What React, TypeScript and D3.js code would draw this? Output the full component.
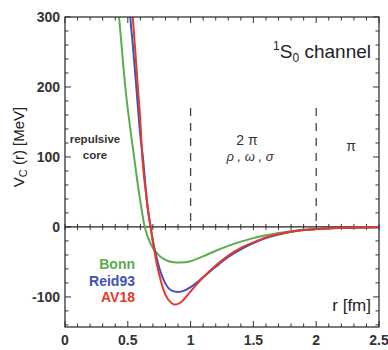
import React from "react";
import * as d3 from "d3";

// r [fm] and V_C(r) [MeV]
const bonnR = [0.41, 0.43, 0.45, 0.48, 0.52, 0.55, 0.58, 0.61, 0.63, 0.66, 0.7, 0.75, 0.8, 0.85, 0.92, 1.0, 1.1, 1.2, 1.3, 1.4, 1.5, 1.6, 1.7, 1.8, 1.9, 2.0, 2.2, 2.5];
const bonnV = [330, 300, 260, 200, 140, 100, 60, 25, 4, -15, -30, -41, -47, -50, -51, -49, -42, -34, -27, -21, -16, -12, -8.5, -6, -4, -3, -1.5, -0.5];

const reidR = [0.51, 0.52, 0.54, 0.57, 0.6, 0.62, 0.64, 0.66, 0.68, 0.7, 0.75, 0.8, 0.85, 0.9, 0.95, 1.0, 1.1, 1.2, 1.3, 1.4, 1.5, 1.6, 1.7, 1.8, 1.9, 2.0, 2.2, 2.5];
const reidV = [330, 300, 260, 195, 130, 100, 60, 25, 2, -20, -58, -81, -91, -93, -91, -86, -72, -57, -43, -32, -23, -16, -11, -7, -4.5, -3, -1.2, -0.3];

const av18R = [0.53, 0.54, 0.56, 0.58, 0.6, 0.615, 0.64, 0.66, 0.68, 0.7, 0.75, 0.8, 0.85, 0.88, 0.92, 1.0, 1.1, 1.2, 1.3, 1.4, 1.5, 1.6, 1.7, 1.8, 1.9, 2.0, 2.2, 2.5];
const av18V = [330, 300, 250, 200, 150, 100, 55, 25, 2, -22, -68, -97, -109, -111, -108, -92, -72, -55, -41, -30, -22, -15, -10, -7, -4.5, -3, -1.2, -0.3];

const xTicks = [0, 0.5, 1, 1.5, 2, 2.5];
const xTickLabels = ["0", "0.5", "1", "1.5", "2", "2.5"];
const yTicks = [-100, 0, 100, 200, 300];
const regionBounds = [1, 2];

const series = [
  { name: "Bonn", r: bonnR, v: bonnV, color: "#5aac4c" },
  { name: "Reid93", r: reidR, v: reidV, color: "#4350b5" },
  { name: "AV18", r: av18R, v: av18V, color: "#e5392b" },
];

const W = 388;
const H = 350;
const margin = { top: 17, right: 9, bottom: 23, left: 65 };

export default function App() {
  const x = d3.scaleLinear().domain([0, 2.5]).range([margin.left, W - margin.right]);
  const y = d3.scaleLinear().domain([-143, 300]).range([H - margin.bottom, margin.top]);
  const line = d3
    .line<[number, number]>()
    .x((d) => x(d[0]))
    .y((d) => y(d[1]))
    .curve(d3.curveMonotoneX);

  const minorX = d3.range(0, 26).map((i) => i / 10);
  const minorY = d3.range(-140, 301, 20);
  const font = "'Liberation Sans', Arial, sans-serif";
  const x0 = x(0), x1 = x(2.5), yT = y(300), yB = y(-143), yZ = y(0);

  return (
    <svg width={W} height={H} style={{ position: "absolute", left: 0, top: 0 }} fontFamily={font}>
      <defs>
        <clipPath id="plot">
          <rect x={x0} y={yT} width={x1 - x0} height={yB - yT} />
        </clipPath>
      </defs>
      <rect width={W} height={H} fill="#fff" />

      {/* ticks */}
      <g stroke="#333" strokeWidth={1}>
        {minorX.map((t, i) => {
          const len = i % 5 === 0 ? 6 : 3.5;
          return (
            <g key={"x" + i}>
              <line x1={x(t)} x2={x(t)} y1={yB} y2={yB - len} />
              <line x1={x(t)} x2={x(t)} y1={yT} y2={yT + len} />
              <line x1={x(t)} x2={x(t)} y1={yZ - 3} y2={yZ + 3} />
            </g>
          );
        })}
        {minorY.map((t) => {
          const len = t % 100 === 0 ? 6 : 3.5;
          return (
            <g key={"y" + t}>
              <line x1={x0} x2={x0 + len} y1={y(t)} y2={y(t)} />
              <line x1={x1} x2={x1 - len} y1={y(t)} y2={y(t)} />
            </g>
          );
        })}
      </g>

      {/* region boundaries */}
      {regionBounds.map((b) => (
        <line key={b} x1={x(b)} x2={x(b)} y1={y(170)} y2={yZ} stroke="#444" strokeWidth={1.3} strokeDasharray="8,7" />
      ))}

      {/* zero line */}
      <line x1={x0} x2={x1} y1={yZ} y2={yZ} stroke="#222" strokeWidth={1.3} />

      <g clipPath="url(#plot)" fill="none">
        {series.map((s) => (
          <path
            key={s.name}
            d={line(s.r.map((r, i) => [r, s.v[i]] as [number, number])) || ""}
            stroke={s.color}
            strokeWidth={2}
          />
        ))}
      </g>

      <rect x={x0} y={yT} width={x1 - x0} height={yB - yT} fill="none" stroke="#333" strokeWidth={1.3} />

      {/* tick labels */}
      <g fontSize={14} fontWeight="bold" fill="#333">
        {xTicks.map((t, i) => (
          <text key={t} x={x(t)} y={H - 5} textAnchor="middle">
            {xTickLabels[i]}
          </text>
        ))}
        {yTicks.map((t) => (
          <text key={t} x={x0 - 5} y={y(t) + 5} textAnchor="end">
            {t}
          </text>
        ))}
      </g>

      {/* axis titles */}
      <text transform={`translate(24,${(yT + yB) / 2 - 25}) rotate(-90)`} textAnchor="middle" fontSize={15} fill="#222">
        V<tspan fontSize={11} dy={3}>C</tspan>
        <tspan dy={-3}> (r) [MeV]</tspan>
      </text>
      <text x={x1 - 8} y={y(-120)} textAnchor="end" fontSize={17} fill="#222">
        r [fm]
      </text>

      {/* annotations */}
      <text x={x1 - 8} y={58} textAnchor="end" fontSize={19} fill="#222">
        <tspan fontSize={12} dy={-8}>1</tspan>
        <tspan dy={8}>S</tspan>
        <tspan fontSize={12} dy={4}>0</tspan>
        <tspan dy={-4}> channel</tspan>
      </text>
      <g fontSize={11.5} fontWeight="bold" fill="#333" textAnchor="middle">
        <text x={95} y={143}>repulsive</text>
        <text x={95} y={159}>core</text>
      </g>
      <g fontSize={14} fill="#333" textAnchor="middle">
        <text x={247} y={145}>2 π</text>
        <text x={250} y={161} fontStyle="italic" fontSize={13}>ρ , ω , σ</text>
        <text x={351} y={151}>π</text>
      </g>

      {/* legend */}
      <g fontSize={14} fontWeight="bold" textAnchor="end">
        {series.map((s, i) => (
          <text key={s.name} x={135} y={269 + i * 16.5} fill={s.color}>
            {s.name}
          </text>
        ))}
      </g>
    </svg>
  );
}
